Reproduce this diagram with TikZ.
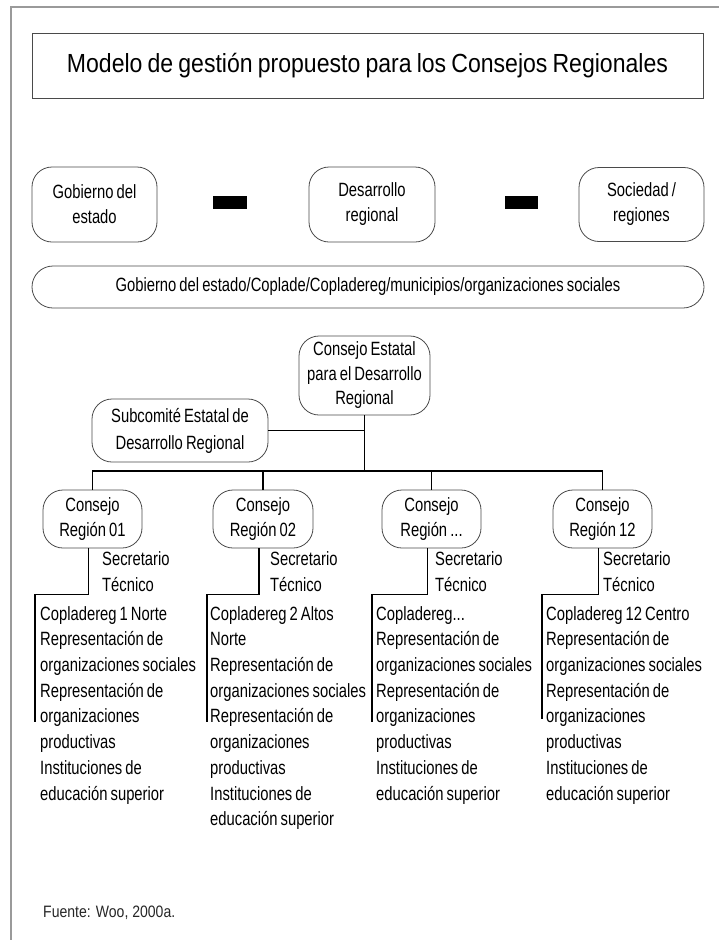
\documentclass[tikz,border=0pt]{standalone}
\usepackage{fontspec}
\setmainfont{Liberation Sans}[FakeStretch=0.77, WordSpace=0.75]
\newfontfamily\titlefont{Liberation Sans}[FakeStretch=0.88, WordSpace=0.8]
\newfontfamily\fuentefont{Liberation Sans}[FakeStretch=0.85]
\usetikzlibrary{positioning}
\definecolor{boxgray}{HTML}{4A4A4A}
\definecolor{framegray}{HTML}{9A9A9A}
\tikzstyle{every node}=[inner sep=0pt, font=\fontsize{19.2}{25}\selectfont]
\tikzstyle{rbox}=[draw=boxgray, line width=0.8pt, rounded corners=20pt, align=center]
\tikzstyle{listtext}=[anchor=north west, align=left, font=\fontsize{19.2}{25.7}\selectfont]
\tikzstyle{link}=[line width=1.2pt, black]

\begin{document}
\begin{tikzpicture}[x=1pt, y=-1pt]
\useasboundingbox (0,0) rectangle (719,940);
% Frame
    \draw[framegray, line width=2pt] (11,940) -- (11,7) -- (719,7);
% Title
    \node[draw=boxgray, line width=0.8pt, minimum width=671pt, minimum height=65pt,
          font=\titlefont\fontsize{26.2}{30}\selectfont] (title) at (367.5,65.5)
          {Modelo de gestión propuesto para los Consejos Regionales};
% Top row
    \node[rbox, minimum width=125pt, minimum height=75pt] (gob) at (94.5,204.5) {Gobierno del\\estado};
    \node[rbox, minimum width=126pt, minimum height=75pt] (des) at (372,204.5) {Desarrollo\\regional};
    \node[rbox, minimum width=125pt, minimum height=74pt] (soc) at (641.5,204.5) {Sociedad /\\regiones};
    \fill (213,196) rectangle (247,209);
    \fill (505,196) rectangle (538,209);
    \node[rbox, rounded corners=21pt, minimum width=672pt, minimum height=42pt] (actores) at (368,287)
          {Gobierno del estado/Coplade/Copladereg/municipios/organizaciones sociales};
% Councils
    \node[rbox, minimum width=131pt, minimum height=79pt, font=\fontsize{19.2}{24.5}\selectfont] (estatal) at (364.5,375.5)
          {Consejo Estatal\\para el Desarrollo\\Regional};
    \node[rbox, minimum width=176pt, minimum height=63pt, font=\fontsize{19.2}{27}\selectfont] (subcom) at (180,430.5)
          {Subcomité Estatal de\\Desarrollo Regional};
    \coordinate (bus) at (363,471);
    \node[rbox, minimum width=99pt, minimum height=58pt] (r01) at (92.5,519) {Consejo\\Región 01};
    \node[rbox, minimum width=100pt, minimum height=58pt] (r02) at (263,519) {Consejo\\Región 02};
    \node[rbox, minimum width=99pt, minimum height=58pt] (r03) at (431.5,519) {Consejo\\Región ...};
    \node[rbox, minimum width=99pt, minimum height=58pt] (r12) at (602.5,519) {Consejo\\Región 12};
% Tree
    \draw[link] (estatal.south) -- (estatal.south |- bus);
    \draw[link] (subcom.east) -- (subcom.east -| estatal.south);
    \draw[link] (r01.north) -- (r01.north |- bus) -- (r12.north |- bus) -- (r12.north);
    \draw[link] (r02.north) -- (r02.north |- bus);
    \draw[link] (r03.north) -- (r03.north |- bus);
% Technical secretaries
    \node[listtext, font=\fontsize{19.2}{26}\selectfont] (st01) at (102,551) {Secretario\\Técnico};
    \node[listtext, font=\fontsize{19.2}{26}\selectfont] (st02) at (270,551) {Secretario\\Técnico};
    \node[listtext, font=\fontsize{19.2}{26}\selectfont] (st03) at (435,551) {Secretario\\Técnico};
    \node[listtext, font=\fontsize{19.2}{26}\selectfont] (st12) at (603,551) {Secretario\\Técnico};
    \coordinate (e01) at (35,722);
    \coordinate (e02) at (207,722);
    \coordinate (e03) at (372,722);
    \coordinate (e12) at (542,719);
    \draw[link] ([xshift=-4pt]r01.south) -- ++(0,46) -| (e01);
    \draw[link] ([xshift=-4pt]r02.south) -- ++(0,46) -| (e02);
    \draw[link] ([xshift=-4pt]r03.south) -- ++(0,46) -| (e03);
    \draw[link] ([xshift=-4pt]r12.south) -- ++(0,46) -| (e12);
% Members
    \node[listtext] (m01) at (40,606) {Copladereg 1 Norte\\Representación de\\organizaciones sociales\\Representación de\\organizaciones\\productivas\\Instituciones de\\educación superior};
    \node[listtext] (m02) at (210,606) {Copladereg 2 Altos\\Norte\\Representación de\\organizaciones sociales\\Representación de\\organizaciones\\productivas\\Instituciones de\\educación superior};
    \node[listtext] (m03) at (376,606) {Copladereg...\\Representación de\\organizaciones sociales\\Representación de\\organizaciones\\productivas\\Instituciones de\\educación superior};
    \node[listtext] (m12) at (546,606) {Copladereg 12 Centro\\Representación de\\organizaciones sociales\\Representación de\\organizaciones\\productivas\\Instituciones de\\educación superior};
% Source
    \node[anchor=west, text=black!85, font=\fuentefont\fontsize{16.5}{20}\selectfont] (fuente) at (43,913) {Fuente: Woo, 2000a.};
\end{tikzpicture}
\end{document}
